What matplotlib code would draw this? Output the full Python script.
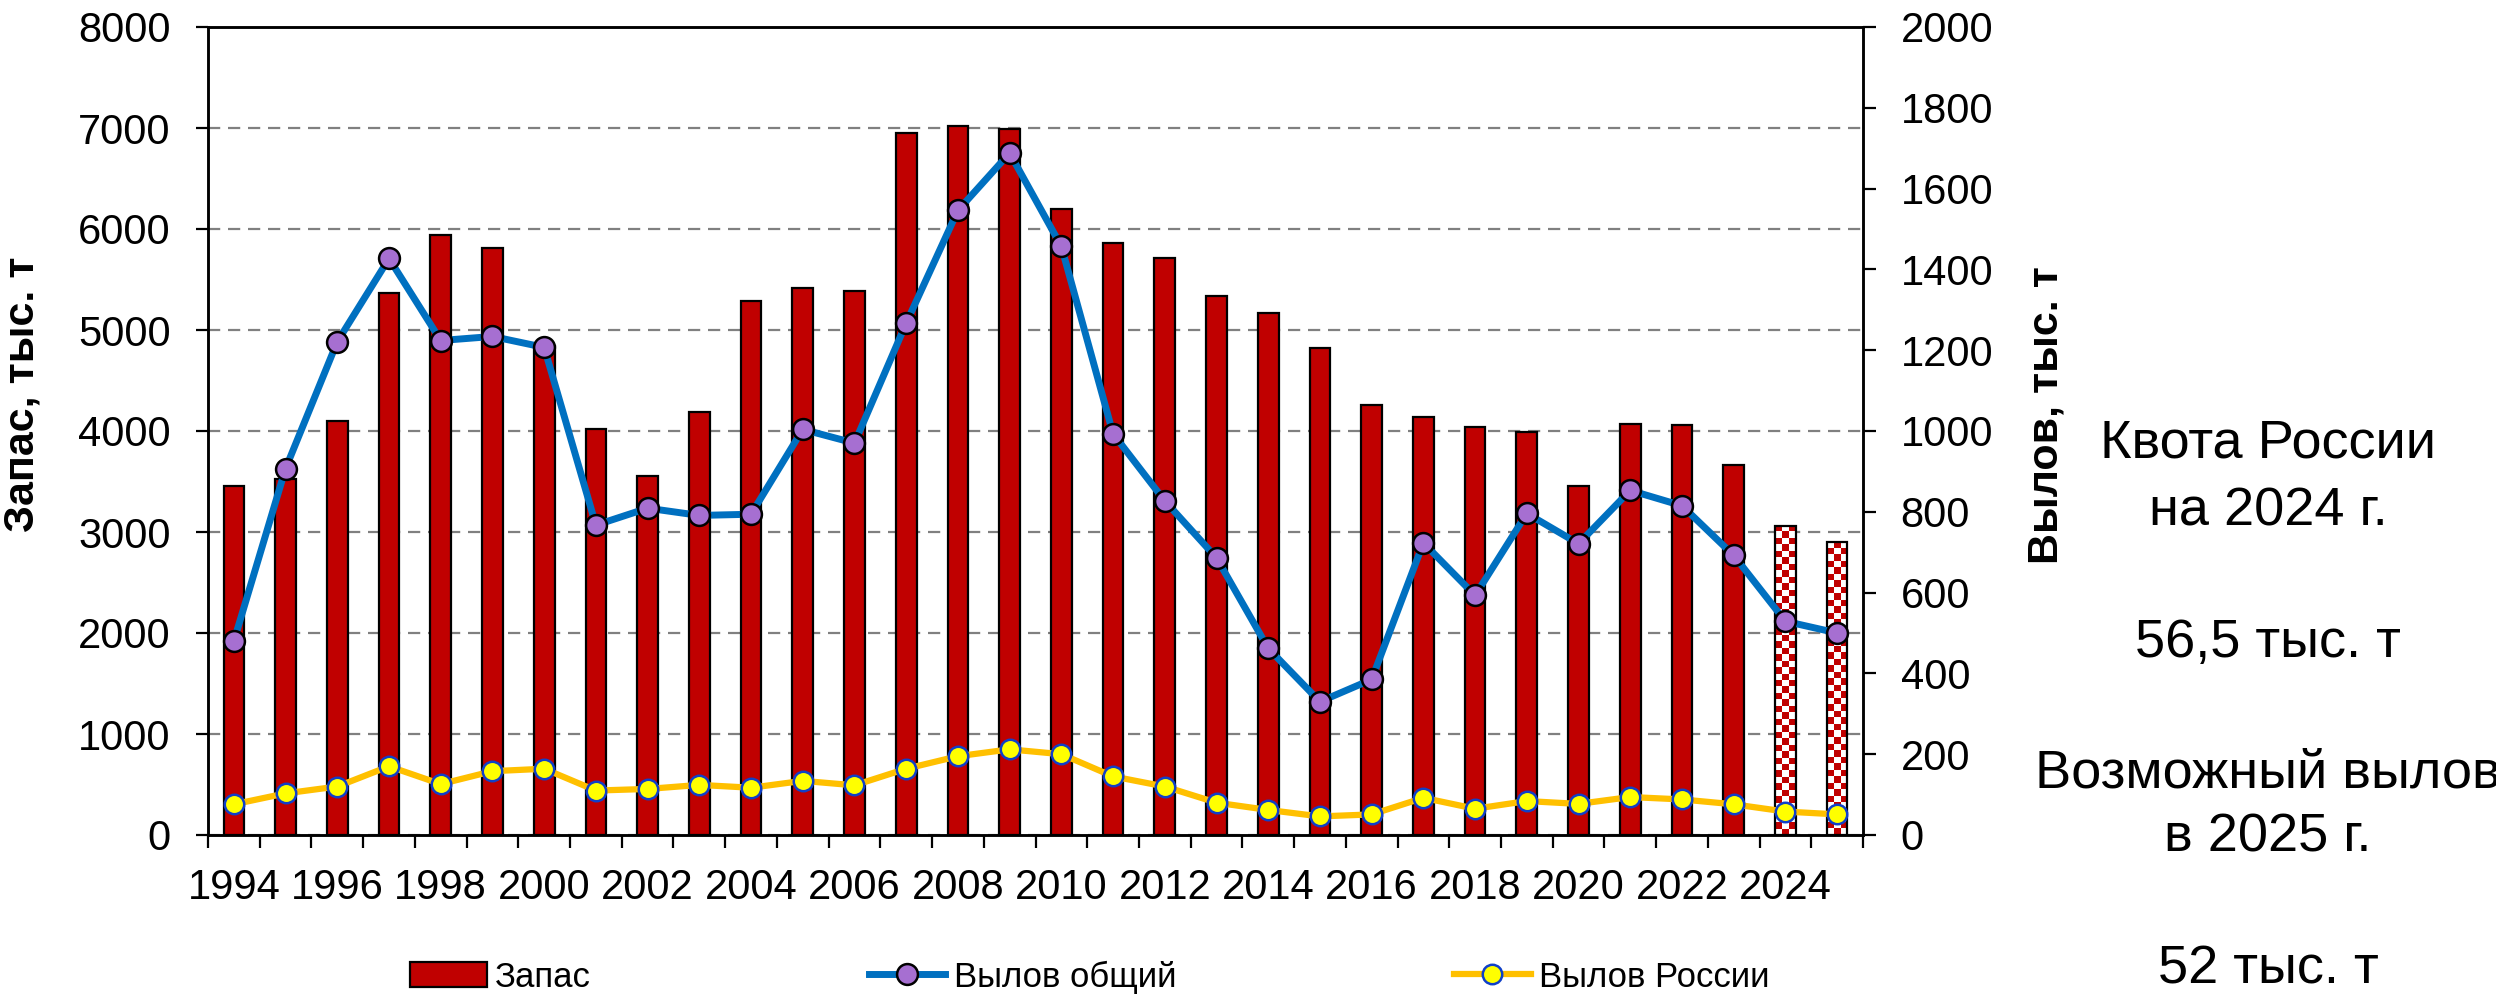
import matplotlib
matplotlib.use("Agg")
import matplotlib.pyplot as plt
import numpy as np
from matplotlib.colors import ListedColormap

plt.rcParams['font.family'] = ['Liberation Sans', 'DejaVu Sans']

years = list(range(1994, 2026))
stock = [3455, 3520, 4100, 5370, 5940, 5810, 4840, 4015, 3555, 4190,
         5290, 5420, 5390, 6950, 7020, 6990, 6200, 5860, 5710, 5340,
         5170, 4820, 4260, 4140, 4040, 3990, 3460, 4070, 4060, 3660,
         3060, 2905]
catch_total = [480, 907, 1221, 1427, 1224, 1234, 1207, 767, 809, 791,
               794, 1004, 970, 1267, 1546, 1688, 1457, 993, 827, 686,
               462, 330, 385, 723, 593, 796, 721, 853, 815, 692,
               529, 500]
catch_russia = [76, 103, 120, 170, 126, 158, 164, 110, 114, 124,
                117, 134, 123, 164, 195, 212, 200, 145, 120, 80,
                62, 46, 51, 92, 65, 84, 77, 94, 88, 76,
                58, 51]
forecast_years = [2024, 2025]

RED = '#C00000'
BLUE = '#0070C0'
YELLOW = '#FFC000'

fig = plt.figure(figsize=(24.96, 9.94), dpi=100)
ax = fig.add_axes([208 / 2496, 1 - 835 / 994, (1863 - 208) / 2496, (835 - 27) / 994])
ax2 = ax.twinx()

x = np.arange(len(years))
is_fc = np.array([y in forecast_years for y in years])

bars = ax.bar(x[~is_fc], np.array(stock)[~is_fc], width=0.4, color=RED,
              edgecolor='black', linewidth=1.6, zorder=2, label='Запас')
fc_bars = ax.bar(x[is_fc], np.array(stock)[is_fc], width=0.4, facecolor='none',
                 edgecolor='black', linewidth=1.6, zorder=3)

ax.set_xlim(-0.5, len(years) - 0.5)
ax.set_ylim(0, 8000)
ax2.set_ylim(0, 2000)

# grid
ax.set_yticks(np.arange(0, 8001, 1000))
ax.yaxis.grid(True, color='#808080', linestyle=(0, (5.5, 3.5)), linewidth=1.6)
ax.set_axisbelow(True)

# checkerboard fill for forecast bars
cmap = ListedColormap(['white', RED])
for patch in fc_bars:
    x0, y0 = patch.get_x(), patch.get_y()
    w, h = patch.get_width(), patch.get_height()
    (px0, py0), (px1, py1) = ax.transData.transform([(x0, y0), (x0 + w, y0 + h)])
    nx = max(1, int(round((px1 - px0) / 6.5)))
    ny = max(1, int(round((py1 - py0) / 6.5)))
    board = np.add.outer(np.arange(ny), np.arange(nx)) % 2
    ax.imshow(board, cmap=cmap, extent=(x0, x0 + w, y0, y0 + h), aspect='auto',
              interpolation='nearest', zorder=2.5, origin='lower')
ax.set_xlim(-0.5, len(years) - 0.5)
ax.set_ylim(0, 8000)

line1, = ax2.plot(x, catch_total, color=BLUE, linewidth=5, marker='o', markersize=15,
                  markerfacecolor='#A66FD1', markeredgecolor='black', markeredgewidth=1.8,
                  label='Вылов общий', zorder=4)
line2, = ax2.plot(x, catch_russia, color=YELLOW, linewidth=4.5, marker='o', markersize=14,
                  markerfacecolor='#FFFF00', markeredgecolor='#1040C8', markeredgewidth=1.8,
                  label='Вылов России', zorder=4)

# x axis: ticks on category boundaries, labels every other year
ax.set_xticks(np.arange(len(years) + 1) - 0.5, minor=True)
ax.set_xticks(x[::2])
ax.set_xticklabels([str(y) for y in years[::2]])
ax.tick_params(axis='x', which='major', length=0, pad=24, labelsize=30)
ax.tick_params(axis='x', which='minor', length=9, width=1.6, direction='out')
ax.tick_params(axis='y', which='major', length=9, width=1.6, pad=18, labelsize=30)
ax2.set_yticks(np.arange(0, 2001, 200))
ax2.tick_params(axis='y', which='major', length=9, width=1.6, pad=18, labelsize=30)

for a in (ax, ax2):
    for s in a.spines.values():
        s.set_linewidth(1.8)

ax.set_ylabel('Запас, тыс. т', fontsize=31, fontweight='bold')
ax.yaxis.set_label_coords(-0.100, 0.545)
ax2.set_ylabel('Вылов, тыс. т', fontsize=31, fontweight='bold', rotation=90)
ax2.yaxis.set_label_coords(1.099, 0.52)

fig.legend(handles=[bars, line1, line2], loc='center', ncol=3,
           bbox_to_anchor=(1090 / 2496, 1 - 977 / 994), frameon=False, fontsize=25,
           columnspacing=8.0, handlelength=2.2, handletextpad=0.25, borderpad=0)

notes = [('Квота России', 444), ('на 2024 г.', 511), ('56,5 тыс. т', 643),
         ('Возможный вылов', 773), ('в 2025 г.', 838), ('52 тыс. т', 969)]
for txt, ypix in notes:
    fig.text(2268 / 2496, 1 - ypix / 994, txt, ha='center', va='center', fontsize=39)

fig.savefig('out.png', dpi=100)
